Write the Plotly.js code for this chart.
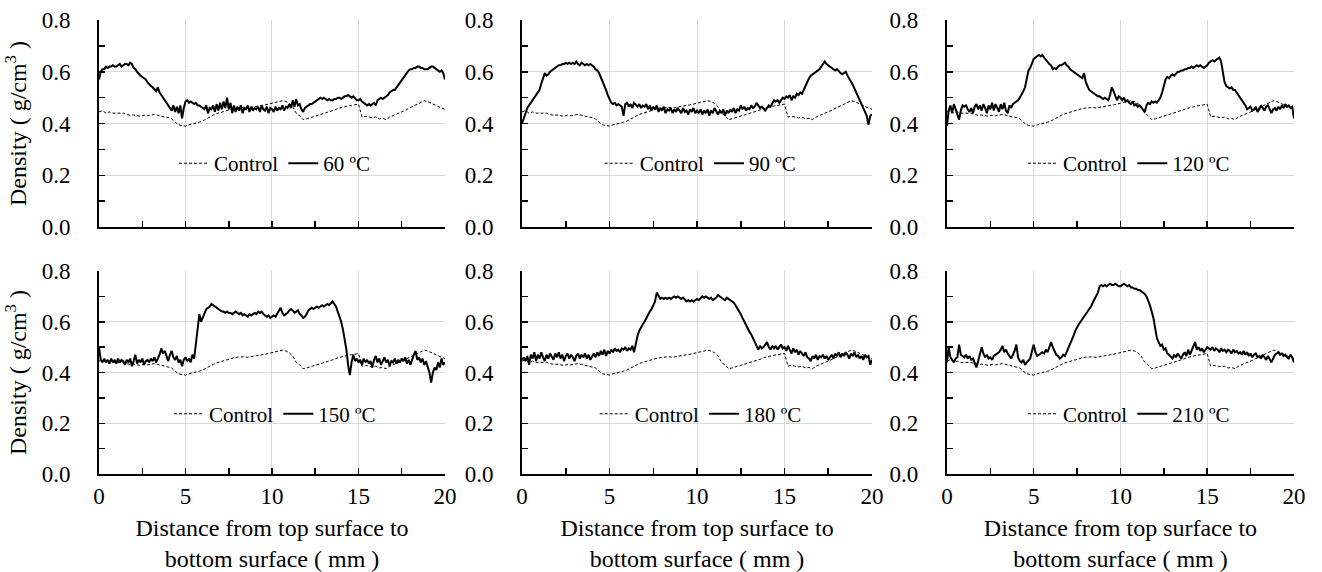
<!DOCTYPE html>
<html>
<head>
<meta charset="utf-8">
<script src="https://cdn.plot.ly/plotly-3.0.1.min.js"></script>
<style>html,body{margin:0;padding:0;background:#fff;}#chart{width:1322px;height:572px;}</style>
</head>
<body>
<div id="chart"></div>
<script>
// Distance from top surface (mm)
const distanceFine = [
0,0.1,0.2,0.3,0.4,0.5,0.6,0.7,0.8,0.9,
1,1.1,1.2,1.3,1.4,1.5,1.6,1.7,1.8,1.9,
2,2.1,2.2,2.3,2.4,2.5,2.6,2.7,2.8,2.9,
3,3.1,3.2,3.3,3.4,3.5,3.6,3.7,3.8,3.9,
4,4.1,4.2,4.3,4.4,4.5,4.6,4.7,4.8,4.9,
5,5.1,5.2,5.3,5.4,5.5,5.6,5.7,5.8,5.9,
6,6.1,6.2,6.3,6.4,6.5,6.6,6.7,6.8,6.9,
7,7.1,7.2,7.3,7.4,7.5,7.6,7.7,7.8,7.9,
8,8.1,8.2,8.3,8.4,8.5,8.6,8.7,8.8,8.9,
9,9.1,9.2,9.3,9.4,9.5,9.6,9.7,9.8,9.9,
10,10.1,10.2,10.3,10.4,10.5,10.6,10.7,10.8,10.9,
11,11.1,11.2,11.3,11.4,11.5,11.6,11.7,11.8,11.9,
12,12.1,12.2,12.3,12.4,12.5,12.6,12.7,12.8,12.9,
13,13.1,13.2,13.3,13.4,13.5,13.6,13.7,13.8,13.9,
14,14.1,14.2,14.3,14.4,14.5,14.6,14.7,14.8,14.9,
15,15.1,15.2,15.3,15.4,15.5,15.6,15.7,15.8,15.9,
16,16.1,16.2,16.3,16.4,16.5,16.6,16.7,16.8,16.9,
17,17.1,17.2,17.3,17.4,17.5,17.6,17.7,17.8,17.9,
18,18.1,18.2,18.3,18.4,18.5,18.6,18.7,18.8,18.9,
19,19.1,19.2,19.3,19.4,19.5,19.6,19.7,19.8,19.9,
20];
const distanceCoarse = [
0,0.2,0.4,0.6,0.8,1,1.2,1.4,1.6,1.8,
2,2.2,2.4,2.6,2.8,3,3.2,3.4,3.6,3.8,
4,4.2,4.4,4.6,4.8,5,5.2,5.4,5.6,5.8,
6,6.2,6.4,6.6,6.8,7,7.2,7.4,7.6,7.8,
8,8.2,8.4,8.6,8.8,9,9.2,9.4,9.6,9.8,
10,10.2,10.4,10.6,10.8,11,11.2,11.4,11.6,11.8,
12,12.2,12.4,12.6,12.8,13,13.2,13.4,13.6,13.8,
14,14.2,14.4,14.6,14.8,15,15.2,15.4,15.6,15.8,
16,16.2,16.4,16.6,16.8,17,17.2,17.4,17.6,17.8,
18,18.2,18.4,18.6,18.8,19,19.2,19.4,19.6,19.8,
20];

// Control density (g/cm3), sampled on distanceCoarse
const controlDensity = [
0.445,0.45,0.44,0.445,0.44,0.44,0.438,0.44,0.435,0.432,
0.433,0.43,0.428,0.432,0.43,0.433,0.435,0.432,0.428,0.425,
0.423,0.418,0.405,0.395,0.392,0.39,0.395,0.398,0.40,0.405,
0.41,0.418,0.425,0.432,0.438,0.442,0.448,0.452,0.455,0.458,
0.46,0.462,0.462,0.46,0.463,0.465,0.468,0.47,0.472,0.475,
0.478,0.48,0.485,0.488,0.485,0.478,0.465,0.44,0.43,0.415,
0.418,0.422,0.428,0.432,0.435,0.44,0.442,0.448,0.452,0.458,
0.462,0.465,0.468,0.47,0.472,0.475,0.425,0.428,0.425,0.422,
0.425,0.418,0.42,0.415,0.425,0.43,0.435,0.44,0.448,0.455,
0.462,0.468,0.475,0.48,0.488,0.485,0.478,0.472,0.465,0.46,
0.455];

// Heat-treated density (g/cm3), sampled on distanceFine
const density60 = [
0.57,0.60,0.61,0.61,0.62,0.615,0.62,0.62,0.625,0.62,
0.62,0.625,0.63,0.62,0.625,0.63,0.63,0.625,0.635,0.63,
0.615,0.61,0.60,0.59,0.585,0.58,0.575,0.57,0.56,0.55,
0.545,0.54,0.53,0.525,0.54,0.52,0.51,0.50,0.49,0.48,
0.47,0.465,0.45,0.47,0.445,0.465,0.44,0.47,0.42,0.46,
0.485,0.49,0.48,0.485,0.48,0.475,0.48,0.47,0.47,0.465,
0.46,0.455,0.47,0.44,0.46,0.455,0.47,0.445,0.475,0.45,
0.48,0.455,0.485,0.46,0.50,0.455,0.48,0.44,0.47,0.445,
0.465,0.45,0.47,0.44,0.46,0.455,0.47,0.445,0.465,0.45,
0.46,0.455,0.465,0.445,0.47,0.455,0.45,0.465,0.44,0.46,
0.455,0.445,0.465,0.45,0.46,0.455,0.47,0.45,0.465,0.46,
0.475,0.46,0.49,0.465,0.495,0.47,0.475,0.455,0.445,0.46,
0.465,0.47,0.475,0.475,0.48,0.485,0.49,0.495,0.50,0.495,
0.50,0.495,0.49,0.495,0.49,0.49,0.495,0.495,0.50,0.50,
0.495,0.50,0.505,0.505,0.51,0.505,0.50,0.505,0.495,0.49,
0.49,0.495,0.485,0.48,0.475,0.47,0.475,0.47,0.475,0.48,
0.47,0.49,0.495,0.50,0.495,0.50,0.505,0.51,0.52,0.525,
0.53,0.53,0.54,0.545,0.56,0.57,0.58,0.59,0.60,0.605,
0.61,0.61,0.615,0.615,0.62,0.62,0.615,0.615,0.61,0.61,
0.61,0.615,0.62,0.62,0.615,0.61,0.605,0.60,0.605,0.595,
0.57];
const density90 = [
0.40,0.42,0.44,0.46,0.47,0.48,0.49,0.50,0.51,0.52,
0.53,0.555,0.58,0.595,0.585,0.59,0.60,0.605,0.61,0.615,
0.62,0.625,0.625,0.63,0.63,0.635,0.63,0.635,0.63,0.635,
0.63,0.64,0.63,0.625,0.635,0.63,0.625,0.63,0.625,0.63,
0.625,0.62,0.61,0.605,0.595,0.58,0.565,0.55,0.53,0.51,
0.495,0.48,0.475,0.48,0.47,0.475,0.47,0.465,0.43,0.475,
0.48,0.465,0.475,0.46,0.48,0.47,0.465,0.475,0.46,0.47,
0.465,0.475,0.455,0.47,0.45,0.465,0.455,0.47,0.445,0.46,
0.45,0.465,0.44,0.455,0.45,0.46,0.44,0.455,0.445,0.46,
0.45,0.44,0.46,0.445,0.45,0.435,0.455,0.445,0.46,0.44,
0.45,0.44,0.455,0.435,0.45,0.44,0.455,0.43,0.45,0.44,
0.46,0.445,0.435,0.45,0.44,0.455,0.43,0.45,0.44,0.455,
0.445,0.46,0.44,0.455,0.45,0.47,0.455,0.465,0.45,0.46,
0.455,0.47,0.46,0.465,0.48,0.47,0.46,0.465,0.455,0.45,
0.46,0.47,0.465,0.48,0.49,0.485,0.49,0.48,0.49,0.50,
0.495,0.505,0.50,0.51,0.49,0.505,0.50,0.515,0.51,0.52,
0.515,0.53,0.55,0.565,0.575,0.585,0.59,0.595,0.60,0.605,
0.61,0.62,0.63,0.64,0.63,0.625,0.62,0.615,0.61,0.605,
0.61,0.60,0.595,0.59,0.595,0.60,0.585,0.575,0.565,0.55,
0.535,0.52,0.505,0.49,0.475,0.465,0.445,0.43,0.395,0.43,
0.435];
const density120 = [
0.39,0.45,0.47,0.44,0.475,0.455,0.43,0.415,0.45,0.47,
0.465,0.47,0.455,0.445,0.46,0.44,0.465,0.475,0.455,0.47,
0.45,0.475,0.46,0.44,0.47,0.455,0.48,0.45,0.475,0.46,
0.445,0.475,0.455,0.48,0.45,0.44,0.47,0.46,0.475,0.48,
0.485,0.49,0.50,0.51,0.525,0.54,0.58,0.605,0.615,0.63,
0.65,0.655,0.66,0.665,0.66,0.665,0.655,0.645,0.64,0.63,
0.625,0.61,0.615,0.61,0.62,0.625,0.625,0.63,0.635,0.625,
0.62,0.61,0.605,0.60,0.595,0.59,0.585,0.58,0.575,0.595,
0.56,0.545,0.53,0.525,0.52,0.515,0.51,0.505,0.505,0.50,
0.495,0.50,0.495,0.49,0.51,0.54,0.525,0.51,0.49,0.505,
0.50,0.49,0.50,0.485,0.49,0.48,0.475,0.485,0.47,0.475,
0.465,0.47,0.46,0.455,0.445,0.47,0.48,0.475,0.485,0.48,
0.485,0.48,0.49,0.50,0.52,0.55,0.57,0.58,0.575,0.585,
0.59,0.585,0.595,0.60,0.60,0.605,0.605,0.61,0.61,0.615,
0.615,0.62,0.615,0.62,0.625,0.62,0.625,0.62,0.615,0.62,
0.625,0.635,0.64,0.645,0.64,0.645,0.65,0.655,0.64,0.60,
0.56,0.545,0.54,0.535,0.54,0.53,0.53,0.52,0.515,0.505,
0.495,0.48,0.47,0.455,0.46,0.465,0.45,0.455,0.465,0.445,
0.455,0.47,0.46,0.45,0.465,0.47,0.455,0.44,0.455,0.46,
0.45,0.465,0.455,0.47,0.46,0.475,0.465,0.47,0.46,0.465,
0.42];
const density150 = [
0.50,0.45,0.44,0.455,0.44,0.45,0.435,0.455,0.44,0.45,
0.435,0.455,0.44,0.45,0.445,0.43,0.45,0.44,0.455,0.425,
0.445,0.47,0.435,0.45,0.44,0.455,0.43,0.445,0.45,0.44,
0.455,0.445,0.46,0.44,0.455,0.47,0.495,0.475,0.485,0.46,
0.445,0.47,0.485,0.46,0.45,0.465,0.44,0.45,0.425,0.45,
0.46,0.445,0.455,0.44,0.47,0.455,0.52,0.59,0.63,0.60,
0.615,0.635,0.65,0.655,0.66,0.67,0.665,0.66,0.655,0.65,
0.645,0.64,0.64,0.635,0.64,0.635,0.635,0.63,0.635,0.64,
0.635,0.63,0.635,0.625,0.63,0.625,0.62,0.63,0.625,0.63,
0.635,0.63,0.64,0.635,0.64,0.63,0.625,0.62,0.625,0.615,
0.62,0.625,0.62,0.63,0.645,0.655,0.635,0.625,0.63,0.635,
0.645,0.65,0.645,0.635,0.64,0.645,0.63,0.625,0.615,0.62,
0.63,0.645,0.65,0.655,0.65,0.655,0.66,0.655,0.66,0.665,
0.66,0.665,0.67,0.665,0.675,0.68,0.67,0.66,0.64,0.62,
0.60,0.57,0.53,0.49,0.43,0.39,0.44,0.47,0.445,0.455,
0.44,0.45,0.43,0.455,0.44,0.45,0.435,0.445,0.42,0.45,
0.465,0.44,0.455,0.43,0.445,0.46,0.44,0.45,0.425,0.445,
0.44,0.455,0.435,0.45,0.44,0.455,0.445,0.46,0.435,0.45,
0.43,0.455,0.47,0.485,0.45,0.46,0.44,0.455,0.43,0.445,
0.42,0.40,0.36,0.40,0.42,0.41,0.44,0.42,0.455,0.43,
0.44];
const density180 = [
0.45,0.46,0.445,0.465,0.43,0.47,0.455,0.48,0.445,0.47,
0.455,0.48,0.46,0.445,0.47,0.455,0.475,0.46,0.45,0.475,
0.46,0.48,0.455,0.47,0.445,0.465,0.475,0.455,0.47,0.46,
0.445,0.465,0.475,0.455,0.47,0.46,0.475,0.455,0.47,0.45,
0.465,0.475,0.46,0.48,0.465,0.485,0.47,0.49,0.465,0.485,
0.475,0.49,0.48,0.495,0.485,0.49,0.48,0.495,0.49,0.50,
0.485,0.495,0.49,0.505,0.48,0.52,0.545,0.565,0.58,0.59,
0.60,0.615,0.63,0.64,0.65,0.665,0.68,0.715,0.70,0.69,
0.695,0.69,0.695,0.69,0.695,0.69,0.695,0.70,0.695,0.70,
0.695,0.69,0.695,0.685,0.68,0.685,0.68,0.685,0.68,0.685,
0.69,0.685,0.695,0.70,0.695,0.70,0.695,0.69,0.695,0.685,
0.69,0.695,0.705,0.70,0.695,0.69,0.685,0.695,0.69,0.685,
0.68,0.675,0.665,0.655,0.645,0.63,0.615,0.60,0.585,0.57,
0.56,0.55,0.535,0.52,0.50,0.49,0.505,0.495,0.50,0.51,
0.52,0.50,0.49,0.505,0.495,0.505,0.49,0.50,0.51,0.495,
0.50,0.485,0.505,0.49,0.475,0.495,0.48,0.49,0.47,0.485,
0.475,0.465,0.48,0.46,0.455,0.445,0.465,0.455,0.47,0.45,
0.465,0.46,0.47,0.455,0.465,0.45,0.46,0.47,0.455,0.475,
0.465,0.48,0.46,0.475,0.465,0.48,0.47,0.455,0.475,0.465,
0.48,0.46,0.47,0.455,0.465,0.45,0.47,0.46,0.465,0.43,
0.45];
const density210 = [
0.44,0.50,0.46,0.45,0.44,0.455,0.46,0.51,0.47,0.465,
0.46,0.47,0.455,0.465,0.45,0.455,0.44,0.42,0.445,0.47,
0.50,0.475,0.46,0.47,0.455,0.46,0.45,0.465,0.47,0.475,
0.48,0.49,0.505,0.48,0.49,0.475,0.465,0.455,0.47,0.485,
0.51,0.46,0.445,0.44,0.45,0.43,0.44,0.45,0.455,0.485,
0.51,0.48,0.465,0.47,0.475,0.48,0.475,0.49,0.48,0.50,
0.52,0.50,0.485,0.47,0.465,0.455,0.46,0.47,0.465,0.48,
0.495,0.51,0.53,0.545,0.565,0.58,0.59,0.60,0.61,0.615,
0.63,0.64,0.65,0.66,0.675,0.69,0.70,0.715,0.74,0.745,
0.74,0.745,0.74,0.745,0.75,0.745,0.745,0.75,0.745,0.74,
0.74,0.745,0.75,0.745,0.74,0.745,0.735,0.735,0.73,0.73,
0.725,0.725,0.72,0.715,0.71,0.70,0.685,0.665,0.64,0.615,
0.575,0.535,0.52,0.505,0.51,0.49,0.495,0.475,0.47,0.46,
0.455,0.47,0.46,0.475,0.465,0.455,0.47,0.48,0.465,0.49,
0.47,0.485,0.505,0.52,0.49,0.50,0.485,0.495,0.48,0.49,
0.50,0.495,0.49,0.50,0.485,0.495,0.49,0.48,0.495,0.485,
0.49,0.48,0.49,0.485,0.475,0.49,0.48,0.485,0.475,0.48,
0.47,0.485,0.47,0.48,0.465,0.475,0.46,0.47,0.475,0.46,
0.465,0.455,0.47,0.46,0.45,0.465,0.455,0.44,0.455,0.47,
0.475,0.48,0.47,0.475,0.465,0.47,0.46,0.455,0.47,0.46,
0.44];

const treatmentLabels = ['60 ºC', '90 ºC', '120 ºC', '150 ºC', '180 ºC', '210 ºC'];
const treatmentSeries = [density60, density90, density120, density150, density180, density210];
const controlLabel = 'Control';
const xTitleText = 'Distance from top surface to<br>bottom surface ( mm )';
const yTitleText = 'Density ( g/cm<sup>3</sup> )';

const FONT = '"Liberation Serif", serif';
const colDomains = [[0.0749, 0.3366], [0.3949, 0.6596], [0.7163, 0.9788]];
const rowDomains = [[0.6031, 0.965], [0.1713, 0.5262]];
const legendX = [0.208, 0.530, 0.854];
const legendY = [0.714, 0.276];

const traces = [];
const layout = {
  width: 1322, height: 572,
  margin: {l: 0, r: 0, t: 0, b: 0},
  paper_bgcolor: '#ffffff', plot_bgcolor: '#ffffff',
  font: {family: FONT, size: 23, color: '#000'},
  showlegend: true
};

for (let i = 0; i < 6; i++) {
  const row = Math.floor(i / 3), col = i % 3;
  const sfx = i === 0 ? '' : String(i + 1);
  traces.push({
    type: 'scatter', mode: 'lines',
    x: distanceCoarse, y: controlDensity,
    xaxis: 'x' + sfx, yaxis: 'y' + sfx, legend: 'legend' + sfx,
    name: controlLabel, hoverinfo: 'skip',
    line: {color: '#000', width: 1, dash: '3px,2px'}
  });
  traces.push({
    type: 'scatter', mode: 'lines',
    x: distanceFine, y: treatmentSeries[i],
    xaxis: 'x' + sfx, yaxis: 'y' + sfx, legend: 'legend' + sfx,
    name: treatmentLabels[i], hoverinfo: 'skip',
    line: {color: '#000', width: 2}
  });
  const xa = {
    domain: colDomains[col], anchor: 'y' + sfx,
    range: [0, 20], dtick: 5, tick0: 0,
    showticklabels: row === 1,
    tickfont: {family: FONT, size: 23, color: '#000'},
    ticks: 'inside', ticklen: 6, tickwidth: 1.5, tickcolor: '#000',
    minor: {dtick: 2.5, ticks: 'inside', ticklen: 6, tickwidth: 1.5, tickcolor: '#000', showgrid: false},
    ticklabelstandoff: 0,
    showline: true, linecolor: '#000', linewidth: 2,
    showgrid: true, gridcolor: '#d9d9d9', gridwidth: 1,
    zeroline: false, fixedrange: true
  };
  if (row === 1) xa.title = {text: xTitleText, font: {family: FONT, size: 24, color: '#000'}, standoff: 12};
  layout['xaxis' + sfx] = xa;
  const ya = {
    domain: rowDomains[row], anchor: 'x' + sfx,
    range: [0, 0.8], dtick: 0.2, tick0: 0, tickformat: '.1f',
    tickfont: {family: FONT, size: 23, color: '#000'},
    ticks: 'inside', ticklen: 6, tickwidth: 1.5, tickcolor: '#000',
    minor: {dtick: 0.1, ticks: 'inside', ticklen: 6, tickwidth: 1.5, tickcolor: '#000', showgrid: false},
    ticklabelstandoff: 22,
    showline: true, linecolor: '#000', linewidth: 2,
    showgrid: true, gridcolor: '#d9d9d9', gridwidth: 1,
    zeroline: false, fixedrange: true
  };
  if (col === 0) ya.title = {text: yTitleText, font: {family: FONT, size: 24, color: '#000'}, standoff: 8};
  layout['yaxis' + sfx] = ya;
  layout['legend' + sfx] = {
    x: legendX[col], y: legendY[row], xanchor: 'center', yanchor: 'middle',
    orientation: 'h', bgcolor: 'rgba(0,0,0,0)', borderwidth: 0,
    font: {family: FONT, size: 21, color: '#000'},
    itemclick: false, itemdoubleclick: false
  };
}

Plotly.newPlot('chart', traces, layout, {staticPlot: true, displayModeBar: false});
</script>
</body>
</html>
